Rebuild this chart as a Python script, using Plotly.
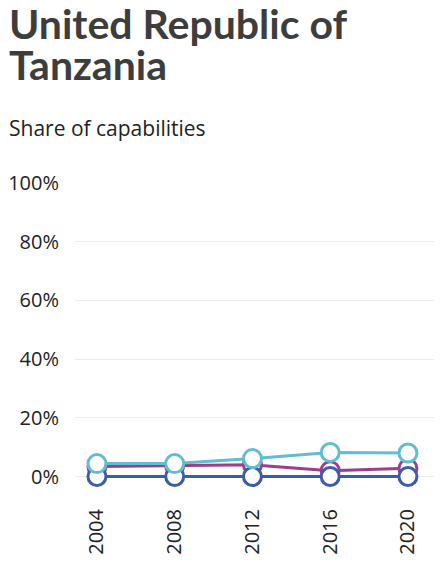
import plotly.graph_objects as go

# data
years = [2004, 2008, 2012, 2016, 2020]
share_blue = [0.0, 0.0, 0.0, 0.0, 0.0]
share_purple = [0.034, 0.037, 0.04, 0.02, 0.028]
share_cyan = [0.044, 0.044, 0.061, 0.082, 0.08]
y_ticks = [0, 0.2, 0.4, 0.6, 0.8, 1.0]
y_tick_labels = ["0%", "20%", "40%", "60%", "80%", "100%"]

series = [
    ("purple", share_purple, "#9c3f8b"),
    ("blue", share_blue, "#3c5ca6"),
    ("cyan", share_cyan, "#62bdd0"),
]

fig = go.Figure()
for name, vals, col in series:
    fig.add_trace(go.Scatter(
        x=years, y=vals, name=name, mode="lines+markers",
        line=dict(color=col, width=3),
        marker=dict(symbol="circle", size=18, color="white",
                    line=dict(color=col, width=3)),
        cliponaxis=False,
    ))

# page body has an 8px margin, so the figure is 8px smaller each way
fig.update_layout(
    width=435, height=566,
    margin=dict(l=67, r=9, t=175, b=74),
    paper_bgcolor="white", plot_bgcolor="white",
    showlegend=False,
    font=dict(family="Open Sans", color="#222222"),
)

fig.update_xaxes(
    range=[2002.87, 2021.34], tickvals=years, ticktext=[str(y) for y in years],
    tickangle=-90, showgrid=False, zeroline=False, showline=False,
    tickfont=dict(size=20, color="#222222"), automargin=False,
    ticklabelstandoff=4,
)
fig.update_yaxes(
    range=[-0.08, 1.0], tickvals=y_ticks, ticktext=y_tick_labels,
    showgrid=True, gridcolor="#ebebeb", gridwidth=1, zeroline=False,
    tickfont=dict(size=20, color="#222222"), ticklabelstandoff=15,
    automargin=False,
)

# title and subtitle placed relative to the top-left corner of the figure
top = 1 + 175 / 317
left = -67 / 359
title_font = dict(family="Lato", size=41, color="#3d3d3d")
fig.add_annotation(text="<b>United Republic of</b>", xref="paper", yref="paper",
                   x=left, y=top, xanchor="left", yanchor="top", yshift=2,
                   height=41, valign="bottom", borderpad=0,
                   showarrow=False, font=title_font)
fig.add_annotation(text="<b>Tanzania</b>", xref="paper", yref="paper",
                   x=left, y=top, xanchor="left", yanchor="top", yshift=-39,
                   height=41, valign="bottom", borderpad=0,
                   showarrow=False, font=title_font)
fig.add_annotation(text="Share of capabilities", xref="paper", yref="paper",
                   x=left, y=top, xanchor="left", yanchor="top", yshift=-105,
                   borderpad=0,
                   showarrow=False, font=dict(family="Open Sans", size=21, color="#222222"))

fig.write_html("out.html")
